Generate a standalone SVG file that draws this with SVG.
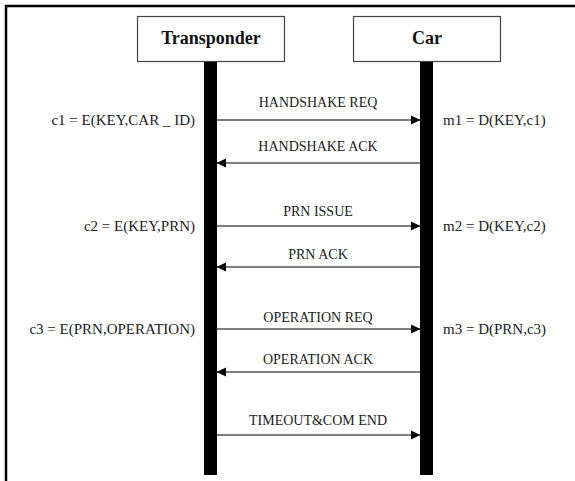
<svg xmlns="http://www.w3.org/2000/svg" width="575" height="481" viewBox="0 0 575 481">
<style>
.frame{stroke:#000;stroke-width:2.5;fill:none}
.box{fill:#fff;stroke:#444;stroke-width:1.2}
.life{fill:#000}
.title{font-family:"Liberation Serif","Times New Roman",serif;font-weight:bold;font-size:18px;text-anchor:middle;fill:#111}
.msg{stroke:#555;stroke-width:1.5;fill:none;marker-end:url(#ah)}
.lbl{font-family:"Liberation Serif","Times New Roman",serif;font-size:14px;text-anchor:middle;fill:#222}
.side{font-family:"Liberation Serif","Times New Roman",serif;font-size:15px;fill:#222}
.l{text-anchor:end}
</style>
<defs>
<marker id="ah" markerWidth="10" markerHeight="10" refX="9" refY="5" orient="auto" markerUnits="userSpaceOnUse">
<path d="M0,0.5 L9.5,5 L0,9.5 Z" fill="#000"/>
</marker>
</defs>
<rect width="575" height="481" fill="#fff"/>
<path class="frame" d="M6,481 V6 H575"/>
<g id="transponder">
<rect class="box" x="137.5" y="16.5" width="147" height="45"/>
<text class="title" x="211" y="44">Transponder</text>
<rect class="life" x="204" y="62" width="13" height="413"/>
</g>
<g id="car">
<rect class="box" x="353.5" y="16.5" width="147" height="45"/>
<text class="title" x="427" y="44">Car</text>
<rect class="life" x="420" y="62" width="13" height="413"/>
</g>
<g id="connectors">
<line class="msg" x1="217" y1="120" x2="420" y2="120"/>
<line class="msg" x1="420" y1="163" x2="217" y2="163"/>
<line class="msg" x1="217" y1="226" x2="420" y2="226"/>
<line class="msg" x1="420" y1="267" x2="217" y2="267"/>
<line class="msg" x1="217" y1="329" x2="420" y2="329"/>
<line class="msg" x1="420" y1="372" x2="217" y2="372"/>
<line class="msg" x1="217" y1="435" x2="420" y2="435"/>
</g>
<g id="labels">
<text class="lbl" x="318" y="107">HANDSHAKE REQ</text>
<text class="lbl" x="318" y="151">HANDSHAKE ACK</text>
<text class="lbl" x="318" y="216">PRN ISSUE</text>
<text class="lbl" x="318" y="259">PRN ACK</text>
<text class="lbl" x="318" y="322">OPERATION REQ</text>
<text class="lbl" x="318" y="364">OPERATION ACK</text>
<text class="lbl" x="318" y="425">TIMEOUT&amp;COM END</text>
<text class="side l" x="195" y="125">c1 = E(KEY,CAR _ ID)</text>
<text class="side l" x="195" y="231">c2 = E(KEY,PRN)</text>
<text class="side l" x="195" y="334">c3 = E(PRN,OPERATION)</text>
<text class="side" x="443" y="125">m1 = D(KEY,c1)</text>
<text class="side" x="443" y="231">m2 = D(KEY,c2)</text>
<text class="side" x="443" y="334">m3 = D(PRN,c3)</text>
</g>
</svg>
